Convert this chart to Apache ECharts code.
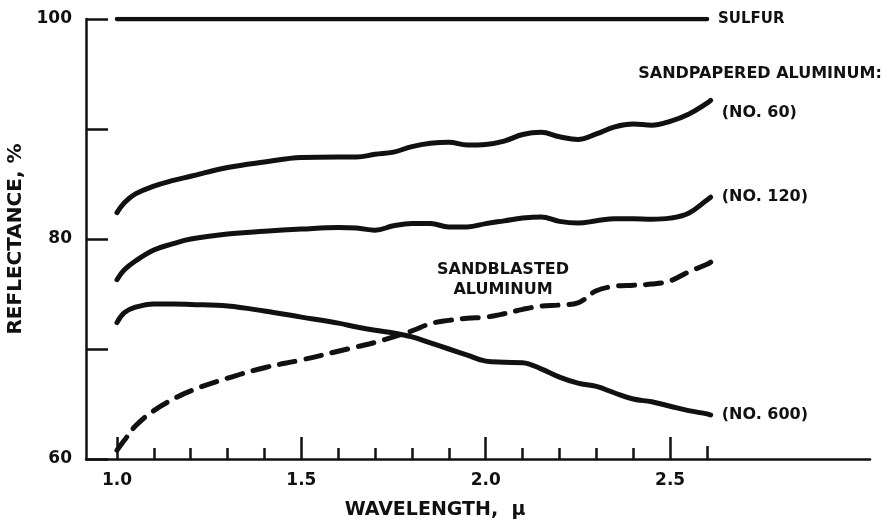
<!DOCTYPE html>
<html>
<head>
<meta charset="utf-8">
<script src="https://cdn.jsdelivr.net/npm/echarts@6/dist/echarts.min.js"></script>
<style>
html,body{margin:0;padding:0;background:#fff;}
#chart{width:889px;height:525px;}
</style>
</head>
<body>
<div id="chart"></div>
<script>
// ---- data ----
const wavelength = [1.00,1.02,1.05,1.10,1.15,1.20,1.30,1.40,1.50,1.60,1.65,1.70,1.75,1.80,1.85,1.90,1.95,2.00,2.05,2.10,2.15,2.20,2.25,2.30,2.35,2.40,2.45,2.50,2.55,2.60,2.61];
const sulfurX = [1.0, 2.6];
const sulfur = [100, 100];
const no60  = [82.4,83.3,84.1,84.8,85.3,85.7,86.5,87.0,87.4,87.45,87.45,87.7,87.9,88.4,88.7,88.8,88.55,88.6,88.9,89.5,89.7,89.3,89.05,89.55,90.2,90.45,90.35,90.7,91.35,92.35,92.6];
const no120 = [76.3,77.2,78.0,79.0,79.55,80.0,80.45,80.7,80.9,81.05,81.0,80.8,81.2,81.4,81.4,81.1,81.1,81.4,81.65,81.9,82.0,81.6,81.45,81.65,81.85,81.85,81.8,81.9,82.35,83.55,83.8];
const no600 = [72.4,73.3,73.8,74.1,74.1,74.05,73.9,73.45,72.9,72.35,72.0,71.7,71.45,71.1,70.55,70.0,69.45,68.9,68.8,68.75,68.2,67.45,66.9,66.6,66.0,65.45,65.2,64.8,64.4,64.1,64.0];
const sandblasted = [60.8,61.7,63.0,64.4,65.4,66.2,67.35,68.3,69.0,69.8,70.2,70.6,71.1,71.65,72.3,72.6,72.8,72.9,73.2,73.6,73.9,74.0,74.2,75.3,75.7,75.8,75.9,76.2,77.0,77.7,77.9];
const majorXTicks = [1.0, 1.5, 2.0, 2.5];
const minorXTicks = [1.1,1.2,1.3,1.4,1.6,1.7,1.8,1.9,2.1,2.2,2.3,2.4];
const endXTick = [2.6];
const yLabels = [60, 80, 100];
const seriesNames = ['SULFUR', '(NO. 60)', '(NO. 120)', '(NO. 600)', 'SANDBLASTED ALUMINUM'];
const groupLabel = 'SANDPAPERED ALUMINUM:';
const xTitle = 'WAVELENGTH,  \u03bc';
const yTitle = 'REFLECTANCE, %';

const FONT = 'DejaVu Sans';
const INK = '#111';
function pairs(xs, ys){ return xs.map((x,i)=>[x, ys[i]]); }

const baseX = {type:'value', min:0.916, max:3.042, position:'bottom', gridIndex:0,
  splitLine:{show:false}};

const endLabel = (text, off, size) => ({show:true, formatter:text, distance:11, offset:off||[0,0],
  color:INK, fontFamily:FONT, fontWeight:'bold', fontSize:size||16});

const lineStyle = {color:INK, width:5, cap:'round', join:'round'};

const option = {
  animation:false,
  backgroundColor:'#fff',
  grid:{left:86, right:19, top:19, bottom:66, outerBoundsMode:'none', containLabel:false},
  xAxis:[
    Object.assign({}, baseX, {
      axisLine:{show:true, lineStyle:{color:INK, width:2.5}},
      axisTick:{show:true, inside:true, length:22, lineStyle:{color:INK, width:2.5}, customValues:majorXTicks},
      axisLabel:{show:true, customValues:majorXTicks, formatter:v=>v.toFixed(1), margin:13,
        color:INK, fontFamily:FONT, fontWeight:'bold', fontSize:17},
      name:xTitle, nameLocation:'middle', nameGap:42,
      nameTextStyle:{color:INK, fontFamily:FONT, fontWeight:'bold', fontSize:19, padding:[0,86,0,0]}
    }),
    Object.assign({}, baseX, {
      axisLine:{show:false},
      axisTick:{show:true, inside:true, length:11, lineStyle:{color:INK, width:2.5}, customValues:minorXTicks},
      axisLabel:{show:false}
    }),
    Object.assign({}, baseX, {
      axisLine:{show:false},
      axisTick:{show:true, inside:true, length:13, lineStyle:{color:INK, width:2.5}, customValues:endXTick},
      axisLabel:{show:false}
    })
  ],
  yAxis:{
    type:'value', min:60, max:100, interval:10,
    axisLine:{show:true, lineStyle:{color:INK, width:2.5}},
    axisTick:{show:true, inside:true, length:22, lineStyle:{color:INK, width:2.5}},
    axisLabel:{show:true, customValues:yLabels, margin:14,
      color:INK, fontFamily:FONT, fontWeight:'bold', fontSize:17},
    splitLine:{show:false},
    name:yTitle, nameLocation:'middle', nameGap:54, nameRotate:90,
    nameTextStyle:{color:INK, fontFamily:FONT, fontWeight:'bold', fontSize:20}
  },
  series:[
    {name:seriesNames[0], type:'line', data:pairs(sulfurX, sulfur), showSymbol:false, smooth:false,
      lineStyle:Object.assign({}, lineStyle, {width:4.5}), endLabel:endLabel(seriesNames[0],[0,0],15)},
    {name:seriesNames[1], type:'line', data:pairs(wavelength, no60), showSymbol:false, smooth:0.4,
      lineStyle:lineStyle, endLabel:endLabel(seriesNames[1],[0,12])},
    {name:seriesNames[2], type:'line', data:pairs(wavelength, no120), showSymbol:false, smooth:0.4,
      lineStyle:lineStyle, endLabel:endLabel(seriesNames[2],[0,0])},
    {name:seriesNames[3], type:'line', data:pairs(wavelength, no600), showSymbol:false, smooth:0.4,
      lineStyle:lineStyle, endLabel:endLabel(seriesNames[3],[0,0])},
    {name:seriesNames[4], type:'line', data:pairs(wavelength, sandblasted), showSymbol:false, smooth:0.4,
      lineStyle:Object.assign({}, lineStyle, {type:[16,11]})}
  ],
  graphic:[
    {type:'text', x:760, y:74, style:{text:groupLabel, align:'center', verticalAlign:'middle',
      fill:INK, font:'bold 16px "'+FONT+'"'}},
    {type:'text', x:503, y:280, style:{text:'SANDBLASTED\nALUMINUM', align:'center', verticalAlign:'middle',
      lineHeight:20, fill:INK, font:'bold 16px "'+FONT+'"'}}
  ]
};

const chart = echarts.init(document.getElementById('chart'), null, {renderer:'canvas'});
chart.setOption(option);
</script>
</body>
</html>
